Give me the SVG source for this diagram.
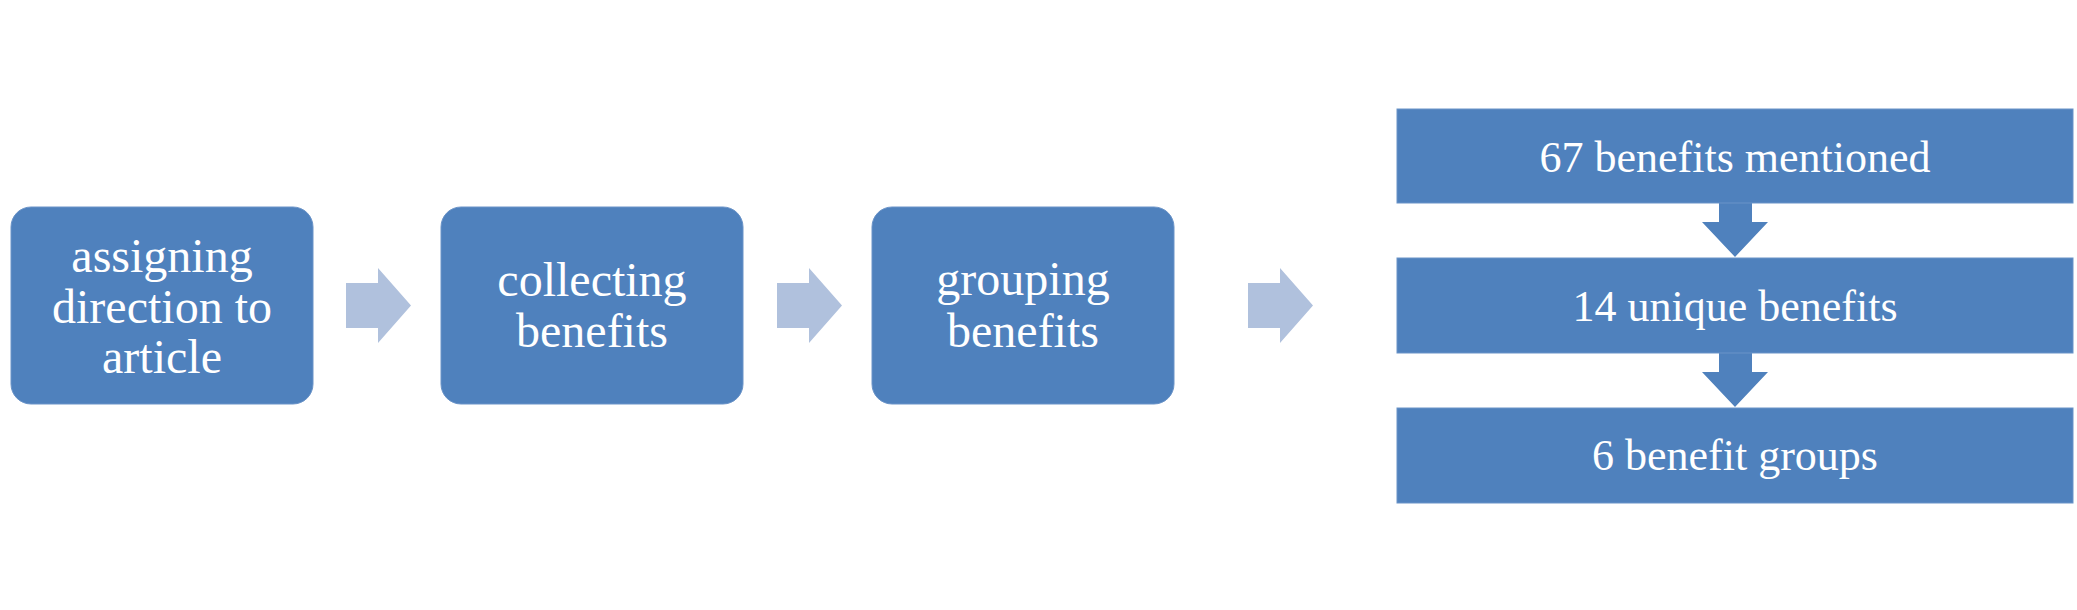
<svg xmlns="http://www.w3.org/2000/svg" width="2077" height="610" viewBox="0 0 2077 610">
<style>
.box{fill:#4F81BD;stroke:#6A93C8;stroke-width:1}
.arr{fill:#B0C1DD}
.darr{fill:#4F81BD}
.t{font-family:"Liberation Serif","Times New Roman",serif;fill:#FFFFFF;text-anchor:middle}
.big{font-size:48px}
.sm{font-size:44px}
</style>
<rect width="2077" height="610" fill="#FFFFFF"/>
<g id="connectors">
<polygon class="arr" points="346,283 378,283 378,268 411,305.5 378,343 378,328 346,328"/>
<polygon class="arr" points="777,283 809,283 809,268 842,305.5 809,343 809,328 777,328"/>
<polygon class="arr" points="1248,283 1280,283 1280,268 1313,305.5 1280,343 1280,328 1248,328"/>
<polygon class="darr" points="1719,203 1752,203 1752,222 1768,222 1735,257 1702,222 1719,222"/>
<polygon class="darr" points="1719,353 1752,353 1752,372 1768,372 1735,407 1702,372 1719,372"/>
</g>
<g id="node-assigning">
<rect class="box" x="11" y="207" width="302" height="197" rx="20"/>
<text class="t big" x="162" y="272">assigning</text>
<text class="t big" x="162" y="323">direction to</text>
<text class="t big" x="162" y="373">article</text>
</g>
<g id="node-collecting">
<rect class="box" x="441" y="207" width="302" height="197" rx="20"/>
<text class="t big" x="592" y="296">collecting</text>
<text class="t big" x="592" y="347">benefits</text>
</g>
<g id="node-grouping">
<rect class="box" x="872" y="207" width="302" height="197" rx="20"/>
<text class="t big" x="1023" y="295">grouping</text>
<text class="t big" x="1023" y="347">benefits</text>
</g>
<g id="node-67">
<rect class="box" x="1397" y="109" width="676" height="94"/>
<text class="t sm" x="1735" y="172">67 benefits mentioned</text>
</g>
<g id="node-14">
<rect class="box" x="1397" y="258" width="676" height="95"/>
<text class="t sm" x="1735" y="321">14 unique benefits</text>
</g>
<g id="node-6">
<rect class="box" x="1397" y="408" width="676" height="95"/>
<text class="t sm" x="1735" y="470">6 benefit groups</text>
</g>
</svg>
